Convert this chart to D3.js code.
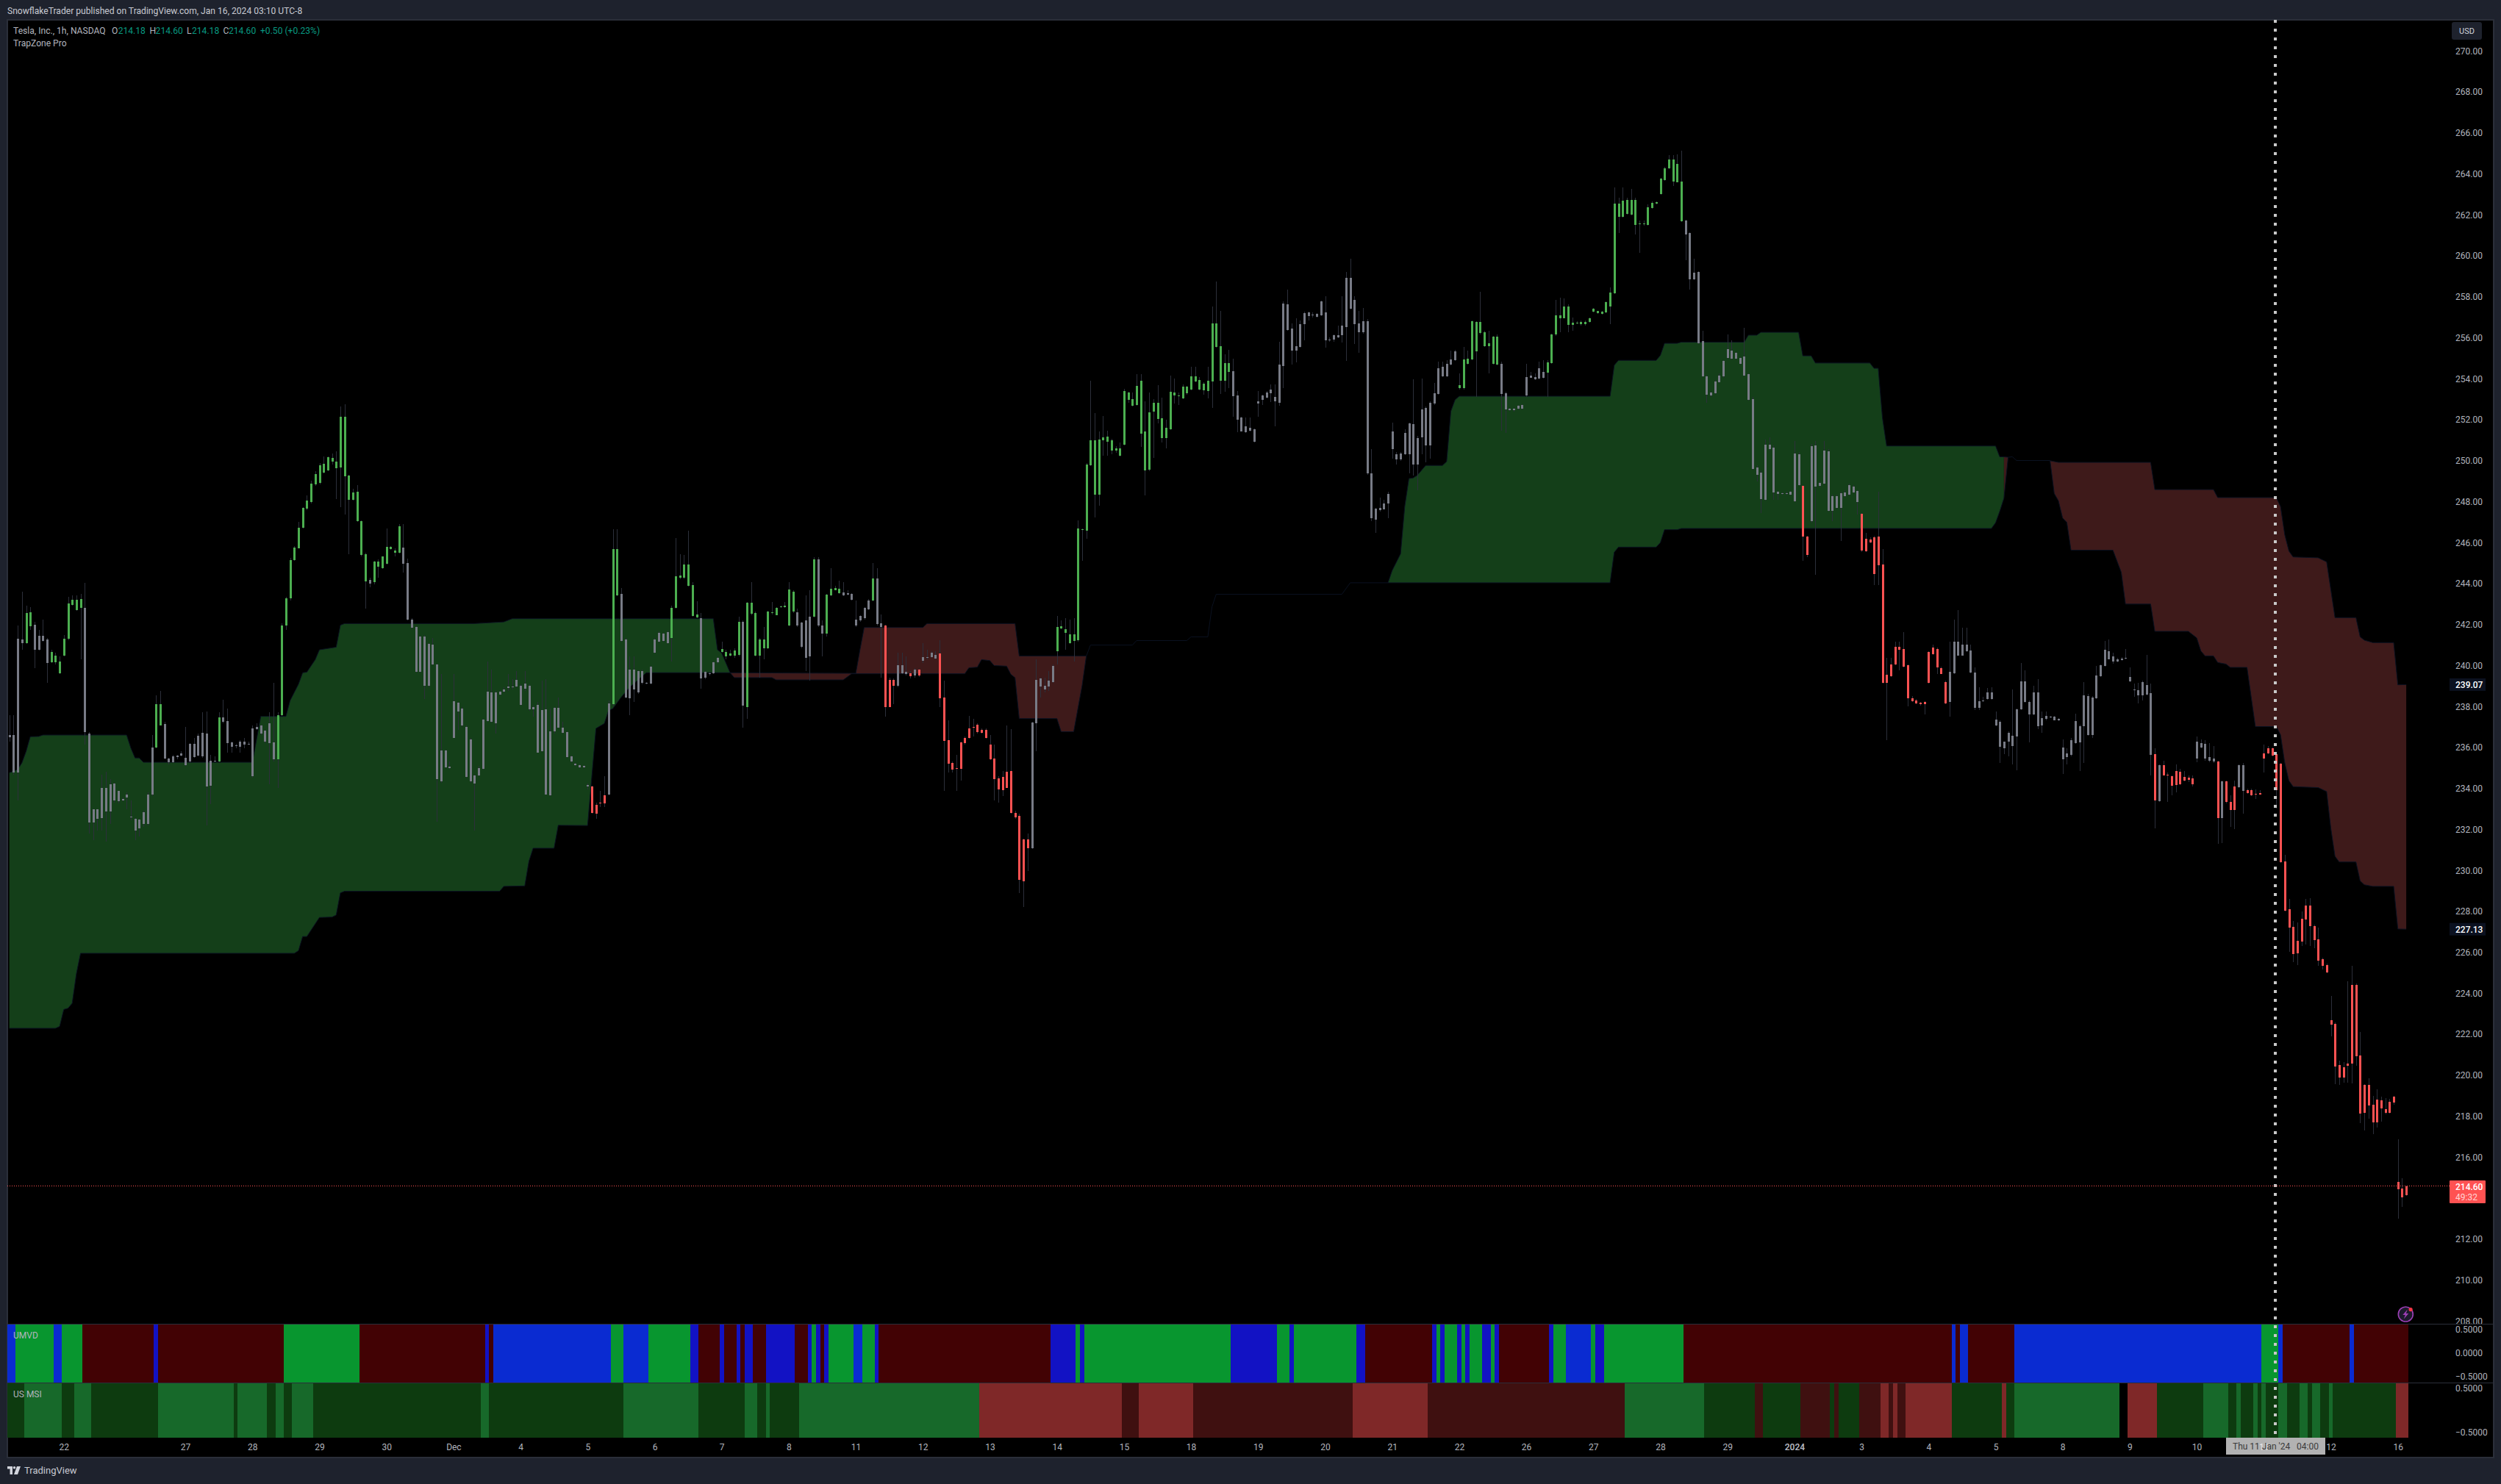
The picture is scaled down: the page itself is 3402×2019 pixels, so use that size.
<!DOCTYPE html>
<html><head><meta charset="utf-8">
<style>
html,body{margin:0;padding:0;background:#1e222d;overflow:hidden}
svg{display:block}
text{font-family:Roboto,"Liberation Sans",sans-serif}
</style>
<script src="https://cdnjs.cloudflare.com/ajax/libs/d3/7.8.5/d3.min.js"></script>
</head><body>
<script>
// ---- candle data, hourly TSLA ----
const bodyTop=[
236.61,236.61,241.30,241.27,242.57,242.60,241.99,241.45,241.45,241.27,
240.66,240.50,240.20,241.30,243.03,243.21,243.21,243.24,242.82,236.69,
232.99,232.99,234.01,234.01,234.20,234.24,233.88,233.50,233.71,232.62,
232.52,232.47,232.84,233.72,236.00,238.11,238.11,237.15,235.45,235.57,
235.60,235.71,235.49,236.18,236.18,236.58,236.70,236.67,235.37,235.36,
237.47,237.47,237.30,236.24,236.10,236.29,236.29,236.19,236.93,237.01,
237.06,236.82,237.17,236.26,237.57,241.96,243.29,245.15,245.76,246.73,
247.69,248.06,248.88,249.34,249.78,249.84,250.18,250.13,249.95,252.15,
252.15,249.26,248.46,248.48,247.05,245.43,244.18,245.08,245.08,245.31,
245.79,245.79,245.61,246.80,245.76,245.00,242.25,241.88,241.40,241.40,
241.06,241.03,240.07,235.87,235.85,235.07,238.26,238.19,237.91,237.01,
236.40,234.65,235.01,237.36,238.72,238.69,238.69,238.72,238.85,238.98,
238.98,239.30,239.01,239.12,239.01,237.97,238.08,237.83,237.86,236.80,
237.92,237.94,236.96,236.75,235.57,235.21,235.15,235.09,234.17,234.09,
233.19,233.29,233.66,238.16,245.69,245.69,243.50,241.27,239.80,239.80,
239.73,239.73,239.17,239.94,241.27,241.59,241.56,241.64,242.82,244.36,
244.38,244.92,244.92,243.93,242.49,242.33,239.68,239.64,240.15,240.37,
240.80,240.66,240.60,240.74,242.13,242.13,243.06,243.06,242.57,241.27,
241.27,242.63,242.60,242.82,242.89,242.92,243.70,243.59,242.60,242.09,
242.20,242.39,245.18,245.18,241.96,243.46,243.75,243.78,243.75,243.58,
243.53,243.50,242.25,242.41,242.81,243.19,244.25,244.25,242.05,241.94,
239.30,239.30,240.02,240.02,239.70,239.62,239.80,239.80,240.40,240.40,
240.63,240.53,240.60,238.43,236.35,235.25,234.99,236.26,236.46,236.93,
236.99,237.10,236.86,236.86,236.14,235.45,234.49,234.56,234.81,234.85,
232.81,232.67,231.51,231.51,237.22,239.30,239.36,239.01,239.28,239.99,
241.88,241.93,241.78,241.53,241.53,246.68,246.65,249.82,250.99,250.99,
251.03,251.14,251.18,251.00,250.60,250.60,253.40,253.33,253.01,253.65,
253.91,251.43,252.36,252.83,252.83,252.08,251.61,253.37,253.33,253.19,
253.62,253.62,254.12,254.12,253.94,253.76,253.91,256.70,256.70,255.59,
254.77,254.77,254.37,253.19,252.11,251.68,251.61,251.54,252.90,253.19,
253.33,253.48,253.12,254.70,257.67,257.64,256.45,255.59,256.67,257.21,
257.24,257.13,257.17,257.78,257.24,255.91,256.13,256.13,256.60,258.92,
258.92,257.84,256.69,256.80,256.80,249.40,247.66,247.69,247.91,248.36,
251.42,250.33,250.35,251.36,251.82,251.79,251.10,252.49,252.57,252.81,
253.30,254.51,254.58,254.74,254.95,255.35,253.70,254.95,254.98,256.80,
256.77,256.77,256.28,255.75,256.05,256.05,254.74,253.30,252.54,252.54,
252.69,252.72,254.08,254.14,254.10,254.51,254.32,254.80,256.16,257.09,
257.08,257.52,257.52,256.74,256.74,256.77,256.77,256.95,257.41,257.30,
257.28,257.73,258.20,262.55,262.55,262.71,262.73,262.73,262.73,261.58,
261.58,262.36,262.59,262.63,263.77,264.28,264.72,264.72,264.48,263.63,
261.72,261.10,259.17,259.21,255.83,254.13,253.33,253.86,254.14,254.86,
255.44,255.38,255.27,255.01,255.09,254.22,253.02,249.66,249.42,250.78,
250.78,250.65,248.47,248.41,248.41,248.47,250.35,250.32,248.76,246.29,
250.70,250.75,248.91,250.49,250.46,248.26,248.28,248.41,248.46,248.81,
248.75,248.52,247.40,246.18,246.15,246.25,246.29,244.94,239.55,240.07,
240.93,240.93,240.80,240.00,238.40,238.29,238.19,238.22,240.66,240.87,
240.80,239.87,239.19,239.68,241.16,241.16,241.03,241.03,240.72,239.67,
238.26,238.30,238.70,238.69,237.37,237.26,236.27,236.73,236.57,237.86,
239.23,239.23,238.22,238.69,238.69,237.45,237.54,237.52,237.49,237.39,
236.00,235.72,236.35,237.29,237.05,238.54,238.51,238.45,239.52,240.00,
240.76,240.69,240.45,240.32,240.34,240.37,239.44,238.85,238.80,239.19,
239.04,238.66,235.68,235.13,235.13,234.67,234.60,234.86,234.83,234.56,
234.54,234.49,236.30,236.21,236.19,235.52,235.45,235.31,234.35,234.35,
233.34,234.09,235.15,235.15,233.93,233.91,233.75,233.77,235.71,235.97,
235.97,235.66,235.21,230.45,228.10,227.23,226.56,227.64,228.28,228.28,
227.28,226.63,225.66,225.38,222.68,222.50,220.50,220.39,220.57,224.41,
224.41,220.96,219.53,219.53,218.56,218.81,218.77,218.34,218.70,218.95,
214.79,214.47,214.57];
const bodyBottom=[
236.51,234.77,234.77,241.08,241.09,241.93,240.77,240.77,241.20,240.13,
240.16,240.16,239.62,240.48,241.30,242.95,242.71,242.82,236.74,232.35,
232.35,232.52,232.57,232.89,232.89,233.40,233.37,233.42,233.56,232.60,
231.96,232.04,232.25,232.25,233.72,236.00,237.09,235.45,235.29,235.29,
235.53,235.60,235.12,235.33,235.52,235.61,235.57,234.11,234.12,235.33,
235.33,237.25,236.21,236.05,236.06,236.05,236.13,236.18,234.61,236.90,
236.69,236.29,236.21,235.41,235.41,237.57,241.94,243.29,245.15,245.74,
246.73,247.66,247.98,248.86,248.91,249.42,249.54,249.95,249.63,249.66,
249.23,248.09,248.09,247.05,245.40,244.10,244.01,244.06,244.83,244.75,
244.97,245.69,245.51,245.51,244.97,242.25,241.85,239.70,239.70,239.01,
239.01,240.04,234.44,234.33,235.04,234.99,236.48,237.76,237.09,234.56,
234.33,234.24,234.65,234.96,237.30,237.25,237.17,238.58,238.74,238.90,
238.93,238.96,238.08,238.88,237.86,237.86,235.76,235.81,233.72,233.68,
236.77,236.98,236.72,235.53,235.33,235.12,235.04,235.04,234.08,232.81,
232.76,233.28,233.28,233.71,238.10,243.43,241.20,238.45,238.42,238.85,
238.69,239.14,239.14,239.11,240.61,241.17,241.20,241.08,241.33,242.82,
244.27,244.27,243.90,242.42,242.34,239.38,239.41,239.57,239.64,240.15,
240.68,240.45,240.50,240.48,240.52,238.05,237.97,242.53,240.50,240.48,
240.85,240.85,242.57,242.47,242.86,242.84,241.97,242.62,241.97,240.93,
240.37,240.45,242.37,241.96,241.57,241.57,243.43,243.69,243.54,243.43,
243.46,243.21,241.97,242.21,242.30,242.73,243.18,242.02,241.89,237.97,
237.97,239.01,239.01,239.62,239.59,239.48,239.51,239.51,240.24,240.37,
240.40,240.34,238.40,236.33,235.21,234.93,234.97,234.96,236.21,236.45,
236.96,236.74,236.72,236.45,235.42,234.46,233.95,233.92,234.04,232.81,
232.59,229.53,229.48,231.08,231.08,237.18,238.98,238.85,238.99,239.20,
240.69,241.81,241.61,241.09,241.20,241.24,246.64,246.59,249.78,248.33,
248.35,251.00,250.93,250.50,250.50,250.24,250.78,252.97,252.69,252.72,
251.32,249.52,249.57,252.40,252.04,251.11,251.11,251.54,253.19,253.15,
253.04,253.30,253.48,253.87,253.48,253.44,253.40,253.87,255.56,253.91,
253.91,254.34,253.15,252.00,251.43,251.39,251.47,250.93,252.78,252.97,
253.08,253.30,252.90,252.83,254.62,256.38,255.38,255.38,255.56,256.67,
257.06,257.11,257.03,257.10,255.88,255.88,255.91,256.02,256.13,256.51,
257.43,256.66,256.26,256.26,249.37,247.21,247.13,247.58,247.64,247.91,
250.57,250.06,250.06,250.33,250.33,249.80,249.80,251.13,250.76,250.76,
252.78,253.26,254.13,254.13,254.69,254.90,253.54,253.54,254.74,254.93,
255.35,256.23,255.59,255.59,254.74,254.71,253.26,252.49,252.46,252.46,
252.54,252.54,253.18,254.06,253.97,254.00,254.06,254.29,254.77,256.15,
256.96,256.96,256.64,256.64,256.71,256.66,256.68,256.77,257.27,257.19,
257.17,257.25,257.52,258.16,261.91,261.91,262.04,262.03,261.51,261.55,
261.55,261.51,262.33,262.55,263.02,263.71,264.28,263.63,263.60,261.69,
261.03,258.87,258.85,255.73,254.13,253.21,253.17,253.30,253.82,254.11,
255.03,254.99,254.98,254.74,254.16,252.96,249.61,249.32,248.12,248.09,
250.56,248.46,248.38,248.39,248.39,248.33,248.01,248.81,246.28,245.40,
247.05,248.73,248.76,248.89,247.56,247.54,247.69,247.69,248.28,248.33,
248.46,247.98,245.61,245.57,246.00,244.48,244.88,239.14,239.14,239.47,
240.07,240.76,239.94,238.42,238.26,238.14,238.10,238.13,239.14,240.55,
239.91,239.60,238.14,238.21,239.62,240.50,240.50,240.69,239.67,237.95,
237.94,238.27,238.37,238.38,237.09,236.05,235.98,236.29,236.06,236.54,
237.86,238.22,237.62,237.62,237.05,237.09,237.41,237.47,237.34,237.33,
235.42,235.52,235.64,236.22,236.25,237.05,236.61,236.61,238.42,239.47,
239.97,240.32,240.19,240.21,240.26,240.34,239.23,238.78,238.54,238.53,
238.58,235.64,233.42,233.39,234.65,234.62,234.12,234.17,234.22,234.38,
234.41,234.19,235.45,236.01,235.45,235.37,235.31,232.57,232.57,233.34,
232.95,232.95,234.06,233.87,233.79,233.67,233.74,233.72,235.45,235.71,
235.61,233.93,230.41,228.05,227.22,225.93,225.95,226.52,227.61,227.28,
226.60,225.59,225.34,225.02,222.47,220.42,219.88,219.88,220.46,220.57,
220.93,218.13,218.16,218.52,217.70,217.70,218.38,218.16,218.16,218.66,
214.43,214.04,214.14];
const wickHigh=[
237.57,237.57,241.97,243.61,242.94,242.86,242.13,241.73,242.25,241.33,
240.77,240.61,240.45,241.49,243.34,243.42,243.42,243.50,244.02,236.74,
233.00,233.00,234.68,234.81,234.44,234.28,233.88,233.56,233.80,233.40,
232.57,232.52,232.92,233.80,236.61,238.53,238.77,237.25,235.49,235.65,
235.65,235.81,237.01,236.21,236.45,236.69,237.73,237.76,235.65,235.57,
237.73,238.34,237.89,236.29,236.16,236.37,236.45,236.29,237.09,237.17,
237.12,236.85,237.73,239.17,237.73,242.05,243.34,245.26,245.82,247.02,
247.74,248.30,249.02,249.50,249.90,250.22,250.22,250.35,250.46,252.66,
252.76,249.30,248.62,248.81,247.10,245.50,244.30,245.10,245.18,245.34,
246.70,245.82,245.74,246.89,246.89,245.23,242.30,241.93,241.45,241.49,
241.09,241.33,240.10,239.57,235.89,235.33,239.57,238.24,237.97,237.06,
236.45,234.68,235.09,237.41,240.21,239.81,238.77,238.77,238.93,239.57,
239.33,239.73,239.09,239.73,239.09,238.05,238.21,239.25,239.33,237.89,
237.97,238.45,237.25,236.80,235.61,235.25,235.18,235.12,234.24,234.12,
233.32,233.88,234.61,238.29,246.67,246.67,243.78,241.33,240.45,240.45,
239.78,239.81,239.20,239.97,241.33,241.65,241.61,241.69,242.94,246.22,
245.42,245.39,246.57,244.06,243.14,242.57,239.73,239.68,240.21,240.42,
241.17,240.77,240.77,240.85,242.37,242.21,243.10,244.06,242.62,241.33,
241.89,242.66,243.10,242.86,242.92,243.10,244.06,243.66,242.78,242.13,
243.42,243.66,245.29,245.29,242.21,243.50,244.75,243.90,244.14,244.06,
243.66,243.53,243.18,242.45,242.86,243.26,245.02,244.75,242.50,242.00,
239.41,239.36,240.64,240.64,240.45,239.73,239.89,239.84,241.09,240.77,
240.69,240.69,241.25,239.25,237.33,235.33,235.65,236.29,236.53,237.54,
237.41,237.17,236.93,236.93,236.61,236.13,234.60,234.85,237.09,236.90,
232.92,232.76,231.56,231.80,237.25,240.29,239.41,239.41,239.73,240.05,
242.42,242.21,242.30,242.25,242.30,247.10,246.70,249.87,253.91,252.34,
251.43,252.18,251.47,251.08,250.72,250.90,253.50,253.36,253.33,254.22,
254.22,252.90,253.33,253.00,253.69,253.08,252.00,254.16,254.01,253.33,
253.73,253.65,254.59,254.59,254.09,253.83,254.59,257.53,258.75,257.31,
255.20,255.41,254.98,253.40,252.15,252.11,252.11,251.56,253.40,253.21,
253.40,253.73,253.73,255.81,257.78,258.36,256.70,256.96,256.85,257.28,
257.28,257.24,257.21,257.82,258.03,256.02,256.17,256.60,258.03,259.22,
259.86,258.02,257.30,257.46,256.90,250.57,247.69,248.20,248.09,248.49,
251.85,250.41,250.41,251.53,251.85,253.97,251.21,254.02,252.65,252.89,
253.78,254.82,254.82,254.90,255.38,255.41,254.26,255.54,255.38,256.85,
256.82,258.26,256.34,256.34,256.10,256.18,254.82,253.38,252.57,252.57,
252.73,252.75,254.74,254.34,254.26,254.82,254.90,254.90,256.21,257.86,
257.97,257.94,257.62,256.98,256.82,256.85,256.85,256.98,257.46,257.33,
257.30,257.78,258.45,263.35,262.83,263.35,262.83,263.26,262.83,261.71,
261.71,262.51,262.67,262.67,263.80,264.35,264.91,264.91,264.94,265.15,
261.75,261.14,259.86,259.25,256.34,254.18,253.38,253.94,254.26,254.90,
256.18,255.86,255.30,255.06,256.50,254.26,253.13,249.77,249.53,251.05,
251.13,250.73,248.52,248.46,248.49,248.52,250.97,250.41,248.81,246.33,
250.81,250.97,248.97,250.97,250.57,248.33,248.33,248.49,248.57,248.89,
248.81,248.57,247.45,246.49,246.25,246.33,248.49,245.69,240.39,240.39,
241.16,241.16,241.64,240.07,238.50,238.38,238.22,238.26,240.71,241.03,
240.87,239.94,239.27,241.16,242.23,242.71,241.83,241.83,241.03,239.91,
238.93,238.46,238.91,238.93,237.74,237.34,236.30,236.78,238.83,237.90,
240.11,239.75,238.30,239.03,239.35,237.74,237.74,237.55,237.54,237.42,
236.38,235.98,236.46,237.66,237.10,239.19,238.62,238.50,239.99,240.07,
241.19,241.27,240.63,240.39,240.42,240.79,239.91,239.11,239.14,239.27,
240.51,239.11,235.98,235.18,235.34,234.78,234.65,235.18,234.94,234.86,
234.62,234.62,236.54,236.38,236.35,236.22,236.06,235.34,234.38,234.38,
233.66,234.38,235.18,235.26,233.98,233.98,233.95,233.90,236.14,236.06,
236.01,235.74,235.26,230.77,228.62,227.52,227.46,228.00,228.62,228.65,
227.34,227.22,225.75,225.46,223.87,222.59,220.70,220.64,224.59,225.34,
224.47,222.11,219.56,219.86,218.99,219.31,218.94,218.88,218.84,218.99,
216.87,214.97,214.60];
const wickLow=[
236.29,234.68,233.40,240.77,241.06,241.73,239.89,240.74,241.16,239.14,
240.13,240.05,239.57,240.45,241.25,242.92,242.66,240.29,236.13,231.80,
231.48,231.96,231.96,231.40,232.28,233.32,233.28,233.37,233.00,232.44,
231.48,231.64,232.12,232.20,233.64,235.97,237.06,235.41,235.17,235.25,
235.41,235.57,235.09,235.25,235.49,235.57,235.49,232.20,233.24,235.29,
235.29,237.17,235.73,235.73,235.97,235.73,235.97,236.13,234.52,236.85,
236.61,236.21,234.20,235.33,234.04,237.54,241.73,243.18,245.10,245.71,
246.70,247.58,247.90,248.78,248.86,249.39,249.50,249.82,248.14,247.74,
247.39,245.42,248.06,247.02,245.34,242.78,243.82,243.98,244.30,244.70,
244.94,245.66,245.34,245.48,244.54,242.21,241.82,239.65,239.65,238.37,
238.93,240.00,232.36,234.28,235.01,234.96,236.45,236.85,237.01,234.52,
234.28,231.96,234.61,234.93,237.25,237.22,236.69,238.53,238.69,238.77,
238.85,238.93,238.05,238.77,237.81,237.49,235.73,235.77,233.69,233.64,
236.69,236.93,236.69,235.49,235.29,235.09,235.01,235.01,233.96,232.76,
232.52,233.08,233.08,233.68,238.05,243.40,241.17,238.40,237.57,238.21,
238.61,239.09,239.09,239.07,240.58,241.14,241.17,241.05,240.21,242.77,
244.22,244.22,243.85,242.37,242.30,238.88,239.33,239.52,239.57,240.10,
240.61,240.29,240.45,240.37,240.45,236.96,237.41,242.45,240.45,239.41,
240.29,240.80,242.50,242.44,242.82,242.81,241.93,242.57,241.89,240.85,
239.73,239.25,242.34,241.89,240.45,241.41,243.40,243.66,243.50,243.40,
243.42,243.18,241.89,242.13,242.25,242.70,243.14,241.97,239.41,237.49,
237.97,238.13,238.93,239.57,239.52,239.36,239.41,239.46,240.13,240.32,
240.36,240.29,237.97,233.88,234.77,234.77,233.88,234.40,236.13,236.42,
236.53,236.69,236.69,236.42,235.39,233.40,233.32,233.64,234.01,232.76,
232.52,228.90,228.20,229.96,231.03,235.81,238.45,238.69,238.77,239.17,
240.05,241.77,240.77,241.06,240.21,241.17,245.10,246.19,249.74,247.23,
247.82,250.25,250.25,250.33,250.37,250.20,250.76,252.81,252.66,252.70,
250.66,248.30,249.50,250.14,251.82,250.89,250.60,251.50,252.79,252.72,
253.02,253.22,253.45,253.83,253.45,253.22,253.04,252.58,255.53,253.26,
253.37,253.53,252.15,251.39,251.41,251.37,251.44,250.90,252.15,252.72,
253.06,252.86,251.68,252.69,253.55,256.36,254.70,254.80,255.53,255.88,
256.85,256.99,257.00,257.06,255.52,255.81,255.81,255.99,255.77,254.86,
257.38,255.70,255.25,256.21,249.32,247.05,246.49,247.53,247.61,247.21,
250.09,249.80,250.01,250.28,249.37,249.29,248.57,250.33,249.93,250.09,
252.73,253.21,254.10,254.10,254.66,254.86,253.49,253.49,254.71,254.90,
253.13,256.18,255.54,254.26,254.71,254.66,251.45,251.37,252.43,252.41,
252.51,252.51,253.13,254.03,253.94,253.97,254.02,253.13,254.74,256.11,
256.26,256.95,256.26,256.34,256.66,256.58,256.58,256.74,257.24,257.16,
257.14,257.22,256.66,258.13,261.11,261.88,262.01,261.99,261.06,260.15,
261.47,261.47,262.30,262.52,262.99,263.68,264.25,263.42,263.58,261.66,
259.78,258.34,258.82,255.70,254.10,252.81,253.13,253.26,253.78,254.06,
254.98,254.96,254.93,254.71,254.13,252.93,249.56,248.97,247.45,248.04,
250.49,248.09,248.09,248.33,248.33,248.30,247.98,248.76,245.13,245.28,
246.97,244.44,248.71,248.84,247.53,247.05,247.66,246.09,248.25,248.30,
248.41,247.37,245.53,245.53,245.96,243.92,243.92,239.11,236.35,239.43,
240.03,239.75,239.91,238.02,238.22,238.11,238.06,237.62,239.11,240.51,
239.59,239.57,238.11,237.50,239.59,240.47,240.47,240.66,239.63,237.82,
237.82,238.24,238.34,238.34,237.05,235.26,235.66,235.58,235.18,234.89,
237.82,238.19,236.25,237.58,236.89,236.70,237.34,237.42,237.31,237.29,
234.70,235.18,235.58,236.19,234.86,235.26,236.57,236.46,238.38,239.43,
239.94,240.29,240.10,240.15,240.23,240.31,239.19,238.46,238.14,238.30,
238.54,234.62,232.06,233.34,234.62,233.34,233.66,233.82,234.17,234.33,
234.30,234.11,235.29,235.98,235.34,235.29,235.26,231.30,231.34,233.26,
232.14,232.02,234.01,232.78,233.74,233.63,233.50,233.69,234.78,235.66,
235.55,233.02,230.37,228.00,226.02,225.52,225.39,226.32,226.38,226.30,
226.20,225.34,225.16,224.98,221.89,219.56,219.53,219.62,219.62,219.60,
220.46,217.65,217.29,217.89,217.13,217.44,217.73,218.09,218.13,218.57,
213.00,213.57,214.12];
const toneKinds="n g n g n g n g n g n g n r n g n g n g n g n g n g n g n r n r n r n r n g n g n g n r n r n r n r n r n r n r".split(" ");
const toneCounts=[4,2,4,8,17,2,13,1,13,22,1,7,45,4,1,2,12,7,5,5,1,12,4,1,2,4,7,1,2,3,3,1,1,1,4,22,6,42,54,10,11,33,28,2,12,21,49,1,1,8,5,1,1,3,2,4,3,32];

// ---- TrapZone band edges: bar number and price ----
const greenOneUpBars=[0,2,3,4,5,7,8,28,29,30,31,32,58,60,66,67,69,70,71,73,74,78,79,80,111,118,120,168,169,170,172];
const greenOneUpPrices=[234.77,234.93,235.25,235.81,236.53,236.54,236.61,236.61,235.97,235.49,235.49,235.28,235.28,237.52,237.52,238.29,239.09,239.65,239.68,240.29,240.77,240.90,241.97,242.05,242.05,242.13,242.29,242.29,240.77,240.61,239.65];
const greenOneLowBars=[0,11,12,13,14,15,16,17,68,69,70,71,74,77,78,79,80,117,118,123,124,125,130,131,138,140,142,143,144,146,148,152,172];
const greenOneLowPrices=[222.29,222.29,222.38,223.21,223.27,223.51,224.95,225.95,225.95,226.08,226.77,226.77,227.70,227.72,227.82,228.90,228.98,228.98,229.22,229.24,230.45,231.08,231.08,232.20,232.19,236.93,237.17,237.81,237.89,238.45,238.93,239.65,239.65];
const redOneUpBars=[172,202,203,204,218,219,240,241,257];
const redOneUpPrices=[239.65,239.62,240.77,241.86,241.86,242.05,242.05,240.47,240.47];
const redOneLowBars=[172,173,182,183,199,201,228,229,231,232,234,235,238,239,240,241,250,251,254,255,256,257];
const redOneLowPrices=[239.65,239.41,239.41,239.30,239.30,239.60,239.60,239.89,239.92,240.29,240.24,240.00,239.97,239.57,239.41,237.41,237.41,236.77,236.77,237.89,239.01,240.45];
const quietOneBars=[257,258,268,269,281,282,286,287,288,318,320,329];
const quietOnePrices=[240.45,241.00,241.00,241.22,241.22,241.40,241.40,242.86,243.48,243.48,244.04,244.04];
const greenTwoUpBars=[329,330,332,333,334,335,336,338,342,343,344,345,346,382,383,384,393,394,395,398,399,414,415,417,418,427,428,430,431,444,445,446,447,448,474,475,476];
const greenTwoUpPrices=[244.04,244.64,245.45,247.77,249.13,249.16,249.29,249.77,249.77,249.96,252.41,252.97,253.15,253.15,254.66,254.90,254.90,255.14,255.73,255.73,255.79,255.79,256.13,256.13,256.27,256.27,255.12,255.12,254.77,254.77,254.51,254.51,252.09,250.72,250.72,250.19,250.19];
const greenTwoLowBars=[329,382,383,384,393,394,395,398,399,473,474,475,476];
const greenTwoLowPrices=[244.04,244.04,245.53,245.78,245.78,246.00,246.63,246.63,246.69,246.69,246.97,247.53,248.17];
const redSliverUpBars=[476,477], redSliverUpPrices=[250.19,250.17];
const redSliverLowBars=[476,477], redSliverLowPrices=[248.17,250.17];
const quietTwoBars=[477,478,479,487], quietTwoPrices=[250.17,250.19,250.01,250.01];
const redTwoUpBars=[487,489,511,512,526,527,541,542,543,544,545,551,553,555,560,561,562,564,569,570,572];
const redTwoUpPrices=[250.00,249.92,249.92,248.59,248.59,248.20,248.20,247.76,246.39,245.59,245.30,245.26,245.06,242.34,242.34,241.40,241.24,241.12,241.12,239.06,239.07];
const redTwoLowBars=[487,488,489,490,491,492,502,504,505,511,512,520,522,523,524,526,527,529,530,534,536,541,542,543,544,545,551,553,554,555,556,560,561,562,564,569,570,572];
const redTwoLowPrices=[250.00,248.40,248.04,247.20,246.99,245.63,245.63,244.55,243.00,243.00,241.67,241.67,241.35,240.71,240.47,240.47,240.15,240.07,239.91,239.91,237.02,237.02,236.62,235.26,234.38,234.09,234.04,233.85,232.06,230.69,230.41,230.41,229.49,229.30,229.22,229.22,227.14,227.13];

// ---- indicator strips: state and number of bars ----
const umvdStates="b g b g r v r g r v r b g b g v r v r v r v r v r v g v r v g b g v r v g v g v g v g v r v g v g v g v g v g v r v g b g v g r b r b r b g b r b r".split(" ");
const umvdCounts=[2,9,2,5,17,1,30,18,30,1,1,28,3,6,10,2,5,1,3,1,1,2,3,7,3,1,1,1,1,1,6,2,3,1,41,6,1,1,35,11,3,1,15,2,16,1,1,1,3,1,1,1,3,2,1,1,12,1,3,6,1,2,19,64,1,1,2,11,59,4,1,16,1,13];
const msiStates="d l d l d l d l d l d l d l d l d l d l d l R D R D R D l d D d D d D d D R D R D R d R d l k R d l d l d l d l d l d l d l d l d R".split(" ");
const msiCounts=[4,9,3,4,16,18,1,7,2,2,2,5,40,2,32,18,11,3,2,1,7,43,34,4,13,38,18,47,19,12,2,9,7,1,1,5,5,2,1,1,2,11,12,1,2,25,2,7,11,6,2,1,3,1,1,1,3,2,3,2,1,2,2,1,15,3];

// ---- axis labels ----
const priceTicks=[208,210,212,214,216,218,220,222,224,226,228,230,232,234,236,238,240,242,244,246,248,250,252,254,256,258,260,262,264,266,268,270].filter(v=>v!==214);
const dayBars=[13,42,58,74,90,106,122,138,154,170,186,202,218,234,250,266,282,298,314,330,346,362,378,394,410,426,442,458,474,490,506,522,538,554,570];
const dayLabels=["22","27","28","29","30","Dec","4","5","6","7","8","11","12","13","14","15","18","19","20","21","22","26","27","28","29","2024","3","4","5","8","9","10","11","12","16"];
const stripTicks=[-0.5,0,0.5], msiTicks=[-0.5,0.5];
const lastPrice=214.60, bandMarks=[239.07,227.13];

// ---- drawing ----
const W=3402,H=2019;
const svg=d3.select("body").append("svg").attr("width",W).attr("height",H);
const pane={l:10,r:3392,t:27,b:1983};
const x=d3.scaleLinear().domain([0,572]).range([12.7,3273.1]);
const y=d3.scaleLinear().domain([208,270]).range([1797.3,69.4]);
svg.append("rect").attr("width",W).attr("height",H).attr("fill","#1e222d");
svg.append("rect").attr("x",pane.l).attr("y",pane.t).attr("width",pane.r-pane.l).attr("height",pane.b-pane.t).attr("fill","#000").attr("stroke","#2a2e39").attr("stroke-width",2);

const EDGE="#0a1120";
const polyLine=d3.line().x(d=>x(d[0])).y(d=>y(d[1]));
function zone(upB,upP,loB,loP,fill){
  const up=upB.map((b,i)=>[b,upP[i]]), lo=loB.map((b,i)=>[b,loP[i]]);
  svg.append("path").attr("d",polyLine(up.concat(lo.slice().reverse()))+"Z").attr("fill",fill).attr("stroke","none");
  svg.append("path").attr("d",polyLine(up)).attr("fill","none").attr("stroke",EDGE).attr("stroke-width",1);
  svg.append("path").attr("d",polyLine(lo)).attr("fill","none").attr("stroke",EDGE).attr("stroke-width",1);
}
const GREEN="#143f19",RED="#3e1a1a";
zone(greenOneUpBars,greenOneUpPrices,greenOneLowBars,greenOneLowPrices,GREEN);
zone(redOneUpBars,redOneUpPrices,redOneLowBars,redOneLowPrices,RED);
zone(greenTwoUpBars,greenTwoUpPrices,greenTwoLowBars,greenTwoLowPrices,GREEN);
zone(redSliverUpBars,redSliverUpPrices,redSliverLowBars,redSliverLowPrices,RED);
zone(redTwoUpBars,redTwoUpPrices,redTwoLowBars,redTwoLowPrices,RED);
[[quietOneBars,quietOnePrices],[quietTwoBars,quietTwoPrices]].forEach(([b,p])=>{
  svg.append("path").attr("d",polyLine(b.map((v,i)=>[v,p[i]]))).attr("fill","none").attr("stroke",EDGE).attr("stroke-width",1);
});

const tones=toneKinds.flatMap((k,i)=>d3.range(toneCounts[i]).map(()=>k));
const toneColor={g:"#4caf50",n:"#787b86",r:"#ff5252"};
const candles=bodyTop.map((t,i)=>({i,t,b:bodyBottom[i],h:wickHigh[i],l:wickLow[i],k:tones[i]||"r"}));
const gBars=svg.append("g").attr("shape-rendering","crispEdges");
gBars.selectAll("rect.w").data(candles).join("rect").attr("class","w")
  .attr("x",d=>Math.round(x(d.i))).attr("width",1)
  .attr("y",d=>y(d.h)).attr("height",d=>Math.max(1,y(d.l)-y(d.h))).attr("fill","#2c2f3a");
gBars.selectAll("rect.b").data(candles).join("rect").attr("class","b")
  .attr("x",d=>Math.round(x(d.i))-1).attr("width",3)
  .attr("y",d=>y(d.t)).attr("height",d=>Math.max(1,y(d.b)-y(d.t))).attr("fill",d=>toneColor[d.k]);

// price axis
const priceAxis=d3.axisRight(y).tickValues(priceTicks).tickSize(0).tickPadding(0).tickFormat(d3.format(".2f"));
const gy=svg.append("g").attr("transform","translate(3340,0)").call(priceAxis);
gy.select(".domain").remove();
gy.selectAll("text").attr("fill","#b2b5be").attr("font-size",12).attr("font-family","Roboto");

// strips
svg.append("rect").attr("x",pane.l+1).attr("y",1801).attr("width",pane.r-pane.l-2).attr("height",155).attr("fill","#000");
function strip(states,counts,colors,top,bottom){
  let start=0;
  const runs=states.map((s,i)=>{const r={s,a:start,b:start+counts[i]};start=r.b;return r;});
  svg.append("g").attr("shape-rendering","crispEdges").selectAll("rect").data(runs).join("rect")
    .attr("x",d=>x(d.a-0.5)).attr("width",d=>x(d.b-0.5)-x(d.a-0.5))
    .attr("y",top).attr("height",bottom-top).attr("fill",d=>colors[d.s]);
}
strip(umvdStates,umvdCounts,{b:"#0a2bd1",v:"#1212c4",g:"#08962f",r:"#420204"},1802,1881);
strip(msiStates,msiCounts,{l:"#17692a",d:"#0d3b0f",D:"#3f1010",R:"#7f2828",k:"#000"},1882,1956);
[1801,1881].forEach(v=>svg.append("line").attr("x1",pane.l).attr("x2",pane.r).attr("y1",v+0.5).attr("y2",v+0.5).attr("stroke","#2a2e39"));

const yU=d3.scaleLinear().domain([-0.5,0.5]).range([1873,1809]);
const yM=d3.scaleLinear().domain([-0.5,0.5]).range([1949,1889]);
[[yU,stripTicks],[yM,msiTicks]].forEach(([s,t])=>{
  const g=svg.append("g").attr("transform","translate(3340,0)").call(d3.axisRight(s).tickValues(t).tickSize(0).tickPadding(0).tickFormat(d3.format(".4f")));
  g.select(".domain").remove();
  g.selectAll("text").attr("fill","#b2b5be").attr("font-size",12).attr("font-family","Roboto");
});

// crosshair date box under the tick labels
const crossX=3095;
svg.append("rect").attr("x",3028).attr("y",1956).attr("width",135).attr("height",23).attr("fill","#b2b2b2");

// time axis
const tAxis=d3.axisBottom(x).tickValues(dayBars).tickSize(0).tickPadding(0).tickFormat((d,i)=>dayLabels[i]);
const gt=svg.append("g").attr("transform","translate(0,1964)").call(tAxis);
gt.select(".domain").remove();
gt.selectAll("text").attr("fill","#b2b5be").attr("font-size",12).attr("font-family","Roboto")
  .attr("font-weight",d=>d===426?600:400);
gt.selectAll("text").filter(d=>d===538).attr("fill","#e8e8e8");

svg.append("text").attr("x",3037).attr("y",1972).attr("font-size",12).attr("fill","#3a3a3a").text("Thu 11 Jan '24");
svg.append("text").attr("x",3124).attr("y",1972).attr("font-size",12).attr("fill","#3a3a3a").text("04:00");

// crosshair
svg.append("line").attr("x1",crossX).attr("x2",crossX).attr("y1",27).attr("y2",1956)
  .attr("stroke","#c8c8c8").attr("stroke-width",4).attr("stroke-dasharray","4 8").attr("shape-rendering","crispEdges");

// last price
svg.append("line").attr("x1",pane.l).attr("x2",3332).attr("y1",Math.round(y(lastPrice))+0.5).attr("y2",Math.round(y(lastPrice))+0.5)
  .attr("stroke","#ff5252").attr("stroke-width",1).attr("stroke-dasharray","1 2");
svg.append("rect").attr("x",3332).attr("y",1606).attr("width",49).attr("height",31).attr("rx",1).attr("fill","#ff5252");
svg.append("text").attr("x",3340).attr("y",1619).attr("font-size",12).attr("font-weight",500).attr("fill","#fff").text("214.60");
svg.append("text").attr("x",3340).attr("y",1633).attr("font-size",12).attr("fill","#ffd4d4").text("49:32");

// band value tags
bandMarks.forEach(v=>{
  svg.append("rect").attr("x",3332).attr("y",y(v)-8.5).attr("width",49).attr("height",17).attr("fill","#0b1120");
  svg.append("text").attr("x",3340).attr("y",y(v)+4.5).attr("font-size",12).attr("font-weight",500).attr("fill","#fff").text(d3.format(".2f")(v));
});

// USD tag
svg.append("rect").attr("x",3335).attr("y",30).attr("width",41).attr("height",24).attr("rx",3).attr("fill","#1e222d");
svg.append("text").attr("x",3355.5).attr("y",46).attr("text-anchor","middle").attr("font-size",11).attr("fill","#d1d4dc").text("USD");

// alert bolt
const bolt=svg.append("g").attr("transform","translate(3272.3,1788)");
bolt.append("circle").attr("r",10).attr("fill","#1c1a2c").attr("stroke","#9c3fb5").attr("stroke-width",1.6);
bolt.append("path").attr("d","M2.5,-6.5 L-4,1 L-0.5,1 L-2.5,6.5 L4,-1 L0.5,-1 Z").attr("fill","#9c3fb5");
bolt.append("circle").attr("cx",6.8).attr("cy",-6.4).attr("r",2.6).attr("fill","#f23645");

// header and legend
const LEG="#b2b5be",UP="#089981";
svg.append("text").attr("x",10).attr("y",19).attr("font-size",12.1).attr("fill","#c8cad2").text("SnowflakeTrader published on TradingView.com, Jan 16, 2024 03:10 UTC-8");
const legend=[[18,"Tesla, Inc., 1h, NASDAQ",LEG],[152,"O",LEG],[160.7,"214.18",UP],[203.6,"H",LEG],[211.6,"214.60",UP],[254,"L",LEG],[261,"214.18",UP],[303.5,"C",LEG],[311,"214.60",UP],[354,"+0.50 (+0.23%)",UP]];
legend.forEach(([px,t,c])=>svg.append("text").attr("x",px).attr("y",46).attr("font-size",12.1).attr("fill",c).text(t));
svg.append("text").attr("x",18).attr("y",63).attr("font-size",12.1).attr("fill",LEG).text("TrapZone Pro");
svg.append("text").attr("x",18).attr("y",1821).attr("font-size",12).attr("fill","#b2b5be").text("UMVD");
svg.append("text").attr("x",18).attr("y",1901).attr("font-size",12).attr("fill","#b2b5be").text("US MSI");

// footer logo
const logo=svg.append("g").attr("transform","translate(10,1995)").attr("fill","#d1d4dc");
logo.append("path").attr("d","M0,0 H7 V11 H3.5 V3.5 H0 Z");
logo.append("circle").attr("cx",9.5).attr("cy",1.8).attr("r",1.8);
logo.append("path").attr("d","M13,0 H18 L14,11 H9 Z");
svg.append("text").attr("x",33).attr("y",2005).attr("font-size",13).attr("fill","#c8cad2").text("TradingView");
</script>
</body></html>
